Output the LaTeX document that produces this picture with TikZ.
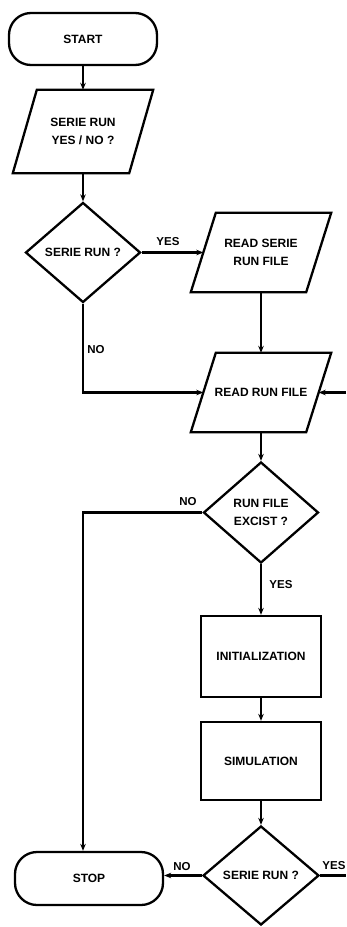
\documentclass[tikz,border=0pt]{standalone}
\usepackage{fontspec}
\setmainfont{Liberation Sans}
\usetikzlibrary{shapes.geometric,arrows.meta,calc}
\newcommand\drawpar[2]{%
  \draw[line width=2.3pt,line join=miter] ([xshift=#2]#1.north west) -- ([xshift=#2]#1.north east) -- ([xshift=-#2]#1.south east) -- ([xshift=-#2]#1.south west) -- cycle;}
\begin{document}
\begin{tikzpicture}[x=1pt,y=-1pt,
  every node/.style={font=\fontsize{12}{17.5}\selectfont\bfseries, align=center},
  term/.style={draw, line width=2.3pt, rounded corners=22pt, minimum width=148pt, minimum height=52pt, inner sep=0pt},
  parbox/.style={minimum width=116pt, minimum height=80pt, inner sep=0pt},
  dia/.style={draw, diamond, line width=2.3pt, minimum width=115pt, minimum height=100pt, inner sep=0pt, aspect=1.15},
  proc/.style={draw, line width=2.3pt, minimum width=120pt, minimum height=80pt, inner sep=0pt},
  conn/.style={line width=2.3pt, -{Stealth[length=7pt,width=5.5pt]}},
  lbl/.style={font=\fontsize{11.5}{13}\selectfont\bfseries}]
\useasboundingbox (0,0) rectangle (346,927);
\node[term] (start) at (83,39) {START};
\node[parbox, minimum height=83pt] (p1) at (83,131.5) {SERIE RUN\\YES / NO ?};
\drawpar{p1}{12pt}
\node[dia] (d1) at (83,252.5) {SERIE RUN ?};
\node[parbox, minimum height=79pt, minimum width=115pt] (p2) at (261,252.5) {READ SERIE\\RUN FILE};
\drawpar{p2}{12.5pt}
\node[parbox, minimum height=79pt, minimum width=115pt] (p3) at (261,392.5) {READ RUN FILE};
\drawpar{p3}{12.5pt}
\node[dia, minimum height=101pt] (d2) at (261,512.5) {RUN FILE\\EXCIST ?};
\node[proc, minimum height=81pt] (init) at (261,656.5) {INITIALIZATION};
\node[proc, minimum height=78pt] (sim) at (261,761) {SIMULATION};
\node[dia, minimum height=99pt, minimum width=116pt] (d3) at (261,875.5) {SERIE RUN ?};
\node[term, minimum height=53pt] (stop) at (89,878.5) {STOP};
\coordinate (loopin) at (346,392.5);
\coordinate (loopout) at (346,875.5);
\draw[conn] (start) -- (p1);
\draw[conn] (p1) -- (d1);
\draw[conn] (d1.east) -- (p2.west);
\draw[conn] (p2) -- (p3);
\draw[conn] (d1.south) |- (p3.west);
\draw[conn] (loopin) -- (p3.east);
\draw[conn] (p3) -- (d2);
\draw[conn] (d2.west) -| (d1.south |- stop.north);
\draw[conn] (d2) -- (init);
\draw[conn] (init) -- (sim);
\draw[conn] (sim) -- (d3);
\draw[conn] (d3.west) -- (stop.east |- d3.west);
\draw[line width=2.3pt] (d3.east) -- (loopout);
\node[lbl] (l1) at (168,242) {YES};
\node[lbl] (l2) at (96,350) {NO};
\node[lbl] (l3) at (188,502) {NO};
\node[lbl] (l4) at (281,585) {YES};
\node[lbl] (l5) at (182,867) {NO};
\node[lbl] (l6) at (334,866) {YES};
\end{tikzpicture}
\end{document}
